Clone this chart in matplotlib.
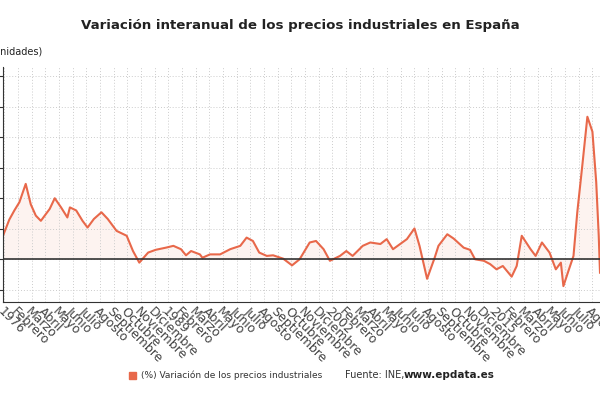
import numpy as np
import matplotlib.pyplot as plt

years = [1975.9, 1976.4, 1976.8, 1977.2, 1977.7, 1978.1, 1978.5, 1978.9, 1979.6, 1980.0,
         1980.5, 1981.0, 1981.2, 1981.7, 1982.2, 1982.6, 1983.1, 1983.7, 1984.2, 1984.9,
         1985.7, 1986.2, 1986.7, 1987.4, 1988.0, 1988.8, 1989.4, 1990.0, 1990.4, 1990.8,
         1991.5, 1991.7, 1992.3, 1993.1, 1993.9, 1994.7, 1995.2, 1995.7, 1996.2, 1996.8,
         1997.3, 1998.1, 1998.8, 1999.4, 2000.2, 2000.7, 2001.3, 2001.8, 2002.6, 2003.1,
         2003.6, 2004.4, 2005.0, 2005.8, 2006.3, 2006.8, 2007.9, 2008.5, 2008.9, 2009.5,
         2010.1, 2010.4, 2011.1, 2011.6, 2012.4, 2012.9, 2013.3, 2014.0, 2014.5, 2015.0,
         2015.5, 2016.2, 2016.6, 2017.0, 2017.7, 2018.1, 2018.6, 2019.2, 2019.7, 2020.1,
         2020.3, 2020.7, 2021.1, 2021.4, 2021.8, 2022.2, 2022.6, 2022.9, 2023.1, 2023.2]
values = [7.7, 13, 16, 18.7, 24.7, 18, 14.3, 12.6, 16.5, 20,
          17, 13.7, 17, 16, 12.6, 10.4, 13.2, 15.4, 13.2, 9.3,
          7.7, 2.7, -1.1, 2.2, 3.1, 3.8, 4.4, 3.3, 1.3, 2.7,
          1.6, 0.5, 1.6, 1.6, 3.3, 4.4, 7.1, 6, 2.2, 1.1,
          1.3, 0.2, -2, 0, 5.5, 6, 3.3, -0.5, 1.1, 2.7,
          1.1, 4.4, 5.5, 5, 6.6, 3.3, 6.6, 10.1, 4.4, -6.4,
          0.5, 4.4, 8.2, 6.8, 3.8, 3.1, 0, -0.5, -1.6, -3.3,
          -2.2, -5.7, -2.2, 7.7, 3.3, 1.1, 5.5, 2.2, -3.3, -1.1,
          -8.8, -3.8, 1.1, 15.4, 30.8, 46.7, 41.8, 25.3, 7.7, -4.4]

months = ["Enero", "Febrero", "Marzo", "Abril", "Mayo", "Junio", "Julio", "Agosto",
          "Septiembre", "Octubre", "Noviembre", "Diciembre"]
tick_pos = [1976 + k * 13 / 12 for k in range(44)]
tick_lab = [str(1976 + k * 13 // 12) if k % 12 == 0 else months[k % 12] for k in range(44)]

col = "#e8684a"
fig = plt.figure(figsize=(6, 4), dpi=100)
ax = fig.add_axes([0.005, 0.245, 0.995, 0.5875])
ax.plot(years, values, color=col, lw=1.5)
ax.fill_between(years, values, 0, color=col, alpha=0.08, lw=0)
ax.axhline(0, color="#333333", lw=1.2)
ax.set_xlim(1975.9, 2023.2)
ax.set_ylim(-14, 63)
ax.set_yticks(range(-10, 61, 10))
ax.set_yticklabels([])
ax.tick_params(axis="y", length=3, color="#333333")
ax.set_xticks(tick_pos)
ax.set_xticklabels(tick_lab, rotation=-45, ha="left", va="top", rotation_mode="anchor",
                   fontsize=9, color="#444444")
ax.tick_params(axis="x", length=0, pad=2)
ax.grid(True, color="#cccccc", ls=(0, (1, 2)), lw=0.7)
for s in ["top", "right"]:
    ax.spines[s].set_visible(False)
ax.spines["left"].set_color("#333333")
ax.spines["bottom"].set_color("#333333")

fig.text(0.5, 0.935, "Variación interanual de los precios industriales en España",
         ha="center", va="center", fontsize=9.6, fontweight="bold", color="#222222")
fig.text(-0.017, 0.87, "(unidades)", ha="left", va="center", fontsize=7, color="#222222")
fig.patches.append(plt.Rectangle((0.215, 0.053), 0.012, 0.018, color=col,
                                 transform=fig.transFigure, figure=fig))
fig.text(0.235, 0.062, "(%) Variación de los precios industriales", ha="left", va="center",
         fontsize=6.5, color="#333333")
fig.text(0.575, 0.062, "Fuente: INE,", ha="left", va="center", fontsize=7, color="#333333")
fig.text(0.672, 0.062, "www.epdata.es", ha="left", va="center", fontsize=7.5,
         fontweight="bold", color="#222222")
fig.savefig("out.png", dpi=100)
